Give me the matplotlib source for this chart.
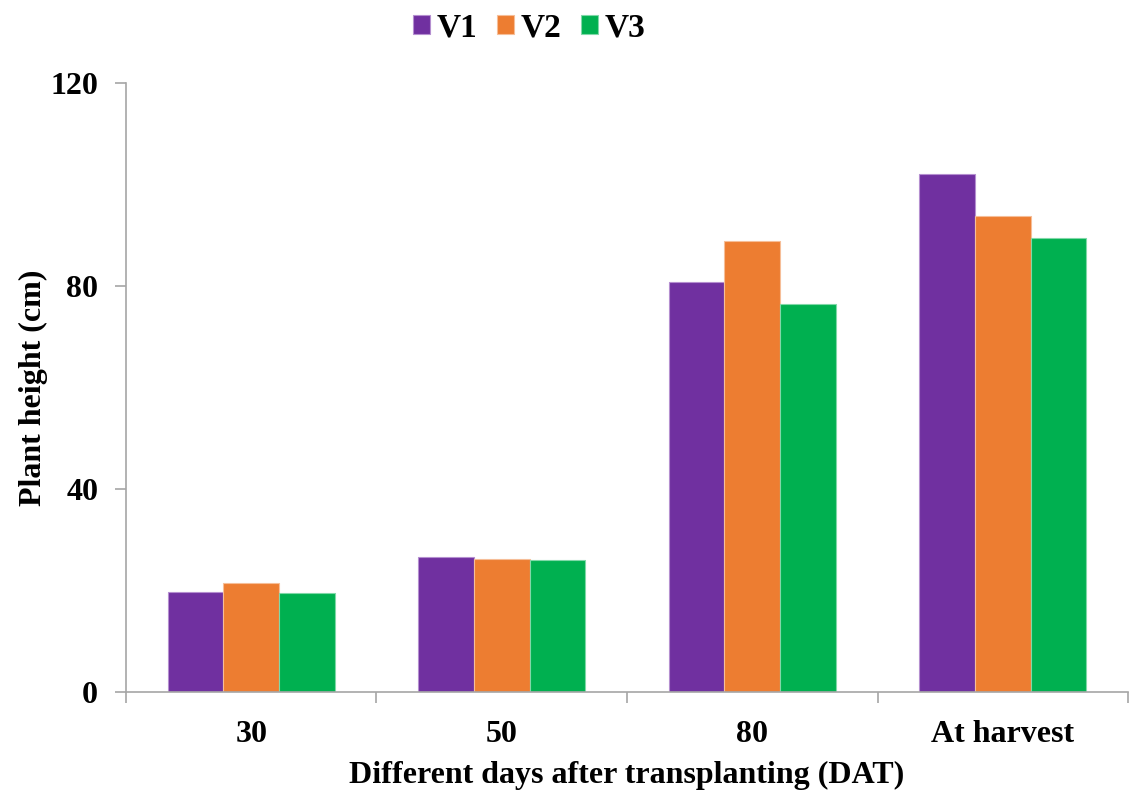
import matplotlib
matplotlib.use("Agg")
import matplotlib.pyplot as plt
import numpy as np

categories = ["30", "50", "80", "At harvest"]
series_names = ["V1", "V2", "V3"]
v1 = [19.6, 26.5, 80.7, 102.1]
v2 = [21.4, 26.1, 88.9, 93.8]
v3 = [19.4, 25.9, 76.5, 89.5]
colors = ["#7030A0", "#ED7D31", "#00B050"]
edges = ["#B58FD0", "#F6BE98", "#80D8A8"]

plt.rcParams['font.family'] = ['Liberation Serif', 'DejaVu Serif']
plt.rcParams['font.weight'] = 'bold'

fig = plt.figure(figsize=(11.33, 7.96), dpi=100)
ax = fig.add_axes([0.1112, 0.1307, 0.8844, 0.7654])

x = np.arange(len(categories))
w = 0.2225
for i, (vals, name) in enumerate(zip([v1, v2, v3], series_names)):
    ax.bar(x + (i - 1) * w, vals, width=w, color=colors[i], edgecolor=edges[i],
           linewidth=0.8, label=name)

fs = 23
ax.set_xlim(-0.5, 3.5)
ax.set_ylim(0, 120)
ax.set_yticks([0, 40, 80, 120])
ax.set_xticks(x)
ax.set_xticklabels(categories)
ax.set_xticks(np.arange(-0.5, 4.0, 1.0), minor=True)
ax.tick_params(axis='x', which='major', length=0, pad=20, labelsize=fs)
ax.tick_params(axis='x', which='minor', length=8, direction='out', color='#A6A6A6', width=1.2)
ax.tick_params(axis='y', length=8, direction='out', color='#A6A6A6', width=1.2, labelsize=fs, pad=12)
for lab in ax.get_xticklabels() + ax.get_yticklabels():
    lab.set_fontweight('bold')

for s in ['top', 'right']:
    ax.spines[s].set_visible(False)
for s in ['left', 'bottom']:
    ax.spines[s].set_color('#A6A6A6')
    ax.spines[s].set_linewidth(1.2)

ax.set_ylabel("Plant height (cm)", fontsize=fs, fontweight='bold', labelpad=2)
ax.set_xlabel("Different days after transplanting (DAT)", fontsize=fs, fontweight='bold', labelpad=9)

leg = fig.legend(loc='upper center', bbox_to_anchor=(0.467, 1.022), ncol=3, frameon=False,
                 prop={'size': 24, 'weight': 'bold'}, handlelength=0.5, handleheight=0.5,
                 handletextpad=0.2, columnspacing=0.6)

fig.savefig("out.png", dpi=100)
